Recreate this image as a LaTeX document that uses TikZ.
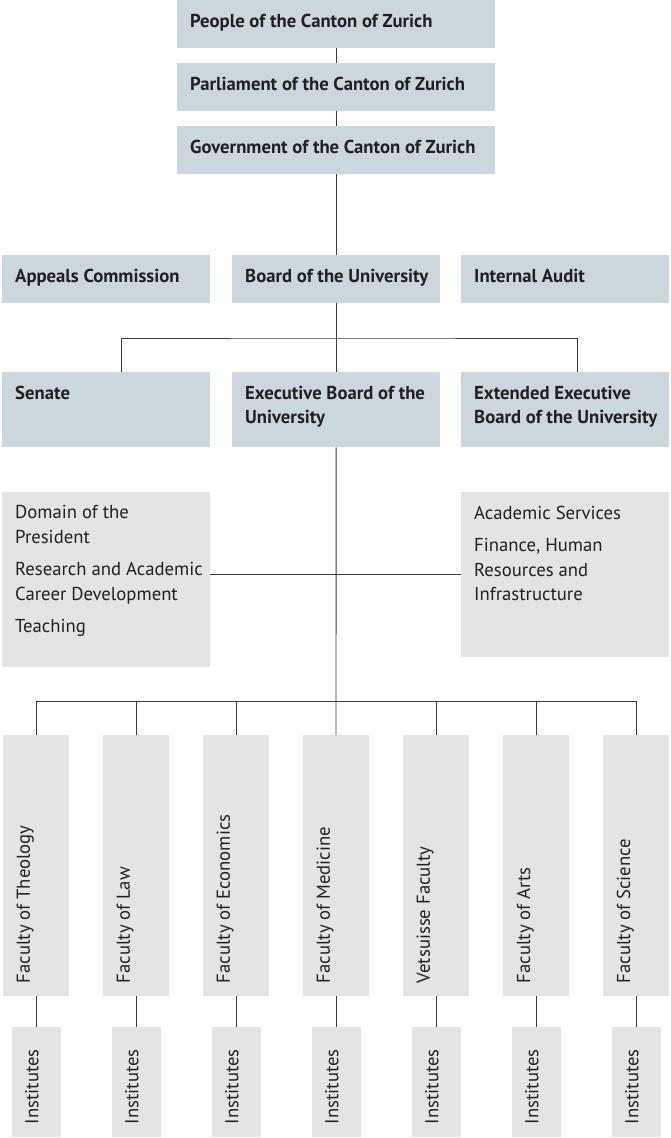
\documentclass[tikz,border=0pt]{standalone}
\usepackage{fontspec}
\setmainfont{PT Sans}
\usepackage{tikz}
\definecolor{headblue}{HTML}{CBD6DD}
\definecolor{unitgrey}{HTML}{E3E4E6}
\definecolor{inkgrey}{HTML}{231F20}
\definecolor{linegrey}{HTML}{3C3C3C}
\tikzstyle{Head}=[rectangle, fill=headblue, inner sep=0, anchor=north west]
\tikzstyle{Unit}=[rectangle, fill=unitgrey, inner sep=0, anchor=north west]
\tikzstyle{Wide}=[Head, minimum width=318, minimum height=48]
\tikzstyle{Col}=[Head, minimum width=208, minimum height=48]
\tikzstyle{ColTall}=[Head, minimum width=208, minimum height=75]
\tikzstyle{Fac}=[Unit, minimum width=66, minimum height=261]
\tikzstyle{Inst}=[Unit, minimum width=49, minimum height=110]
\tikzstyle{Txt}=[anchor=north west, inner xsep=13, inner ysep=13.5, align=left, text=inkgrey, font=\fontsize{18.7}{24.5}\selectfont]
\tikzstyle{BTxt}=[Txt, font=\bfseries\fontsize{18.7}{24.5}\selectfont]
\tikzstyle{VTxt}=[Txt, rotate=90]
\tikzstyle{Link}=[draw=linegrey, line width=0.9pt]

\begin{document}
\begin{tikzpicture}[x=1pt, y=-1pt]
    \useasboundingbox (0,0) rectangle (671,1138);
    % canton and university boards
    \path
    (177,0) node[Wide] (people) {}
    (177,63) node[Wide] (parl) {}
    (177,126) node[Wide] (gov) {}
    (2,255) node[Col] (appeals) {}
    (232,255) node[Col] (board) {}
    (461,255) node[Col] (audit) {}
    (2,372) node[ColTall] (senate) {}
    (232,372) node[ColTall] (exec) {}
    (461,372) node[ColTall] (extexec) {}
    (2,492) node[Unit, minimum width=208, minimum height=175] (pres) {}
    (461,492) node[Unit, minimum width=208, minimum height=165] (services) {};
    % faculties and institutes
    \path
    (3,735) node[Fac] (theo) {}
    (103,735) node[Fac] (law) {}
    (203,735) node[Fac] (econ) {}
    (303,735) node[Fac] (med) {}
    (403,735) node[Fac] (vet) {}
    (503,735) node[Fac] (arts) {}
    (603,735) node[Fac] (sci) {}
    (11.5,1027) node[Inst] (i1) {}
    (111.5,1027) node[Inst] (i2) {}
    (211.5,1027) node[Inst] (i3) {}
    (311.5,1027) node[Inst] (i4) {}
    (411.5,1027) node[Inst] (i5) {}
    (511.5,1027) node[Inst] (i6) {}
    (611.5,1027) node[Inst] (i7) {};
    \coordinate (split) at (336,338);
    \coordinate (bus) at (336,701);

    \path (people.north west) node[BTxt] {People of the Canton of Zurich};
    \path (parl.north west) node[BTxt] {Parliament of the Canton of Zurich};
    \path (gov.north west) node[BTxt] {Government of the Canton of Zurich};
    \path (appeals.north west) node[BTxt] {Appeals Commission};
    \path (board.north west) node[BTxt] {Board of the University};
    \path (audit.north west) node[BTxt] {Internal Audit};
    \path (senate.north west) node[BTxt] {Senate};
    \path (exec.north west) node[BTxt] {Executive Board of the\\University};
    \path (extexec.north west) node[BTxt] {Extended Executive\\Board of the University};
    \path (pres.north west) node[Txt] {Domain of the\\President\\[8pt]Research and Academic\\Career Development\\[8pt]Teaching};
    \path (services.north west) node[Txt] {Academic Services\\[8pt]Finance, Human\\Resources and\\Infrastructure};
    \path (theo.south west) node[VTxt] {Faculty of Theology};
    \path (law.south west) node[VTxt] {Faculty of Law};
    \path (econ.south west) node[VTxt] {Faculty of Economics};
    \path (med.south west) node[VTxt] {Faculty of Medicine};
    \path (vet.south west) node[VTxt] {Vetsuisse Faculty};
    \path (arts.south west) node[VTxt] {Faculty of Arts};
    \path (sci.south west) node[VTxt] {Faculty of Science};
    \path (i1.south west) node[VTxt] {Institutes};
    \path (i2.south west) node[VTxt] {Institutes};
    \path (i3.south west) node[VTxt] {Institutes};
    \path (i4.south west) node[VTxt] {Institutes};
    \path (i5.south west) node[VTxt] {Institutes};
    \path (i6.south west) node[VTxt] {Institutes};
    \path (i7.south west) node[VTxt] {Institutes};

    \draw[Link] (people) -- (parl) -- (gov) -- (board) -- (exec);
    \draw[Link] ([xshift=15]senate.north) |- (split) -| ([xshift=12]extexec.north);
    \draw[Link] (services.west) -- (services.west -| pres.east);
    \draw[Link] (exec) -- (bus);
    \draw[Link] (theo) |- (bus) -| (sci);
    \draw[Link] (law) -- (law |- bus);
    \draw[Link] (econ) -- (econ |- bus);
    \draw[Link] (med) -- (bus);
    \draw[Link] (vet) -- (vet |- bus);
    \draw[Link] (arts) -- (arts |- bus);
    \draw[Link] (theo) -- (i1);
    \draw[Link] (law) -- (i2);
    \draw[Link] (econ) -- (i3);
    \draw[Link] (med) -- (i4);
    \draw[Link] (vet) -- (i5);
    \draw[Link] (arts) -- (i6);
    \draw[Link] (sci) -- (i7);
\end{tikzpicture}
\end{document}
